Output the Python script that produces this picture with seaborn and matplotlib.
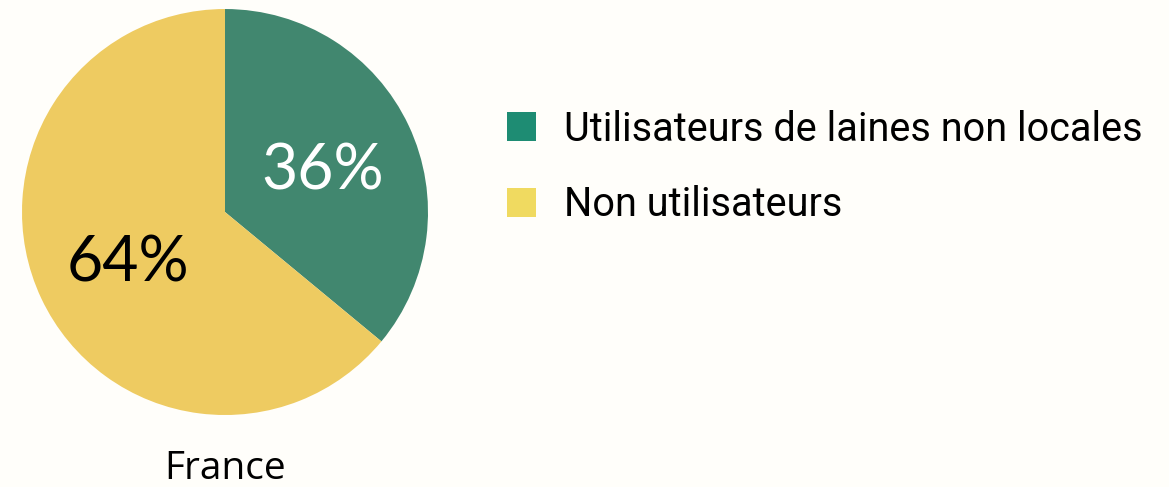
import matplotlib
matplotlib.use("Agg")
import matplotlib.pyplot as plt
import matplotlib.font_manager as fm
from matplotlib.patches import Patch
import seaborn as sns

# Share of respondents using non-local wool, France
categories = ["Utilisateurs de laines non locales", "Non utilisateurs"]
values = [36, 64]
country = "France"

wedge_colors = ["#41876F", "#EECB61"]
legend_colors = ["#1E8C73", "#F0DA60"]
label_colors = ["white", "black"]
bg = "#FFFEFA"

sns.set_theme(style="white")
plt.rcParams["font.family"] = ["Lato", "DejaVu Sans"]
plt.rcParams["text.color"] = "black"

fig = plt.figure(figsize=(11.69, 4.87), dpi=100, facecolor=bg)
ax = fig.add_axes([0.01882, 0.1478, 0.3473, 0.8337])
ax.set_facecolor(bg)

wedges, texts, autotexts = ax.pie(
    values,
    colors=wedge_colors,
    startangle=90,
    counterclock=False,
    autopct="%d%%",
    pctdistance=0.53,
    wedgeprops=dict(linewidth=0),
    radius=1.0,
)
for t, c in zip(autotexts, label_colors):
    t.set_color(c)
    t.set_fontsize(45)
    t.set_va("center_baseline")
ax.set_xlim(-1, 1)
ax.set_ylim(-1, 1)
ax.set_aspect("equal")
ax.axis("off")

fig.text(225 / 1169, 1 - 469 / 487, country, ha="center", va="center",
         fontsize=28, family=["Open Sans", "DejaVu Sans"], color="black")

handles = [Patch(facecolor=c, edgecolor="none") for c in legend_colors]
fig.legend(handles, categories, loc="upper left",
           bbox_to_anchor=(471 / 1169, 1 - 74 / 487),
           frameon=False, handlelength=0.75, handleheight=0.75,
           handletextpad=0.69, labelspacing=0.92, labelcolor="black",
           prop=fm.FontProperties(family=["Roboto", "DejaVu Sans"], size=28.5))

fig.savefig("out.png", dpi=100, facecolor=bg)
